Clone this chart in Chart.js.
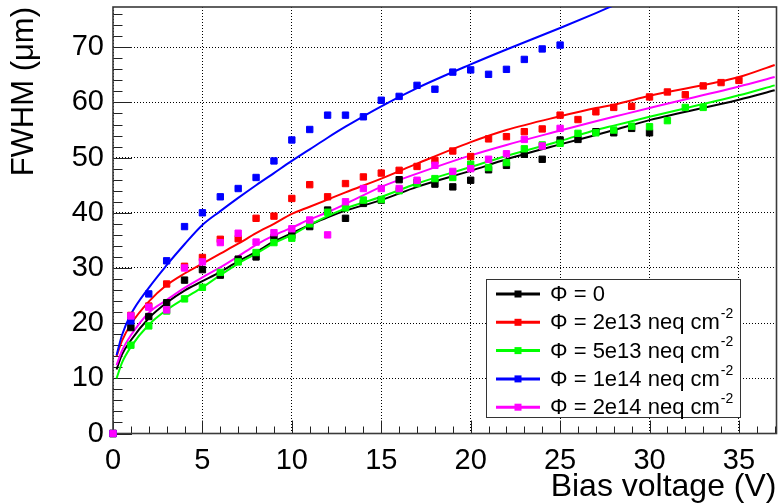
<!DOCTYPE html>
<html><head><meta charset="utf-8">
<script src="https://cdn.jsdelivr.net/npm/chart.js@4.4.1/dist/chart.umd.min.js"></script>
<style>html,body{margin:0;padding:0;background:#fff}canvas{display:block}</style>
</head><body>
<canvas id="c" width="782" height="504"></canvas>
<script>
// ---------- data ----------
const voltage = [0,1,2,3,4,5,6,7,8,9,10,11,12,13,14,15,16,17,18,19,20,21,22,23,24,25,26,27,28,29,30,31,32,33,34,35];
const seriesLabels = ['Φ = 0', 'Φ = 2e13 neq cm^{-2}', 'Φ = 5e13 neq cm^{-2}', 'Φ = 1e14 neq cm^{-2}', 'Φ = 2e14 neq cm^{-2}'];
const fwhmPhi0  = [0,19.2,21.2,23.7,27.8,29.7,28.7,31.6,32.0,35.5,35.9,37.5,40.5,39.0,41.7,42.3,46.0,45.5,45.2,44.7,45.9,47.8,48.6,50.6,49.7,53.2,53.3,54.7,54.5,55.3,54.5];
const fwhm2e13  = [0,21.4,23.1,27.1,30.3,31.9,35.2,35.3,39.0,39.4,42.6,45.1,42.9,45.3,46.5,47.2,47.7,48.4,49.5,51.2,50.2,53.4,53.8,54.7,55.2,57.7,56.9,58.3,59.1,59.3,61.0,61.9,61.4,63.0,63.6,64.0];
const fwhm5e13  = [0,16.0,19.5,22.2,24.4,26.5,29.2,31.1,32.8,34.6,35.4,38.0,40.1,40.9,42.3,42.4,44.0,45.3,46.2,46.4,48.8,48.2,49.1,51.6,52.3,52.6,54.4,54.5,55.0,55.7,55.6,56.7,59.1,59.1];
const fwhm1e14  = [0,20.4,25.3,31.3,37.5,40.0,42.9,44.4,46.4,49.4,53.2,55.1,57.7,57.7,57.4,60.4,61.1,63.1,62.4,65.5,65.9,65.1,66.0,67.8,69.7,70.4];
const fwhm2e14  = [0,21.3,22.9,22.4,30.0,31.1,34.6,36.3,34.7,36.4,37.1,38.7,36.0,42.0,44.4,44.4,44.4,45.9,48.6,47.5,48.0,49.7,50.7,53.3,52.1,55.3];

const fitVoltage = [0.2,0.5,1,2,3,4,5,6,7,8,9,10,11,12,13,15,17,20,22,25,27,28,30,35,37];
const fitPhi0 = [11.6,14.3,16.9,20.9,23.7,25.9,27.6,29.3,31.2,32.9,34.8,36.3,37.8,39.2,40.4,42.3,44.7,47.6,49.7,52.4,54.1,55.0,56.8,60.5,62.2];
const fit2e13 = [14.0,16.8,19.8,23.9,26.9,29.0,30.8,32.6,34.4,36.3,38.0,39.8,41.1,42.4,43.7,46.2,48.9,52.8,55.0,57.5,59.0,59.6,61.2,64.6,66.8];
const fit5e13 = [10.0,12.8,15.7,19.7,22.4,24.5,26.5,28.7,30.8,32.6,34.5,36.0,37.8,39.4,40.8,42.9,45.3,48.3,50.3,53.0,55.0,55.8,57.4,61.3,63.1];
const fit1e14 = [14.2,17.8,21.6,26.4,30.5,34.3,37.8,40.3,42.7,45.0,47.2,49.4,51.5,53.6,55.6,59.3,62.6,66.9,69.6,73.5,76.2,77.6];
const fit2e14 = [12.4,15.0,17.8,21.9,24.2,26.4,28.3,30.1,32.1,34.2,35.9,37.3,38.8,40.1,41.6,44.7,47.1,50.4,52.3,54.9,56.6,57.4,59.0,62.9,64.6];

const xTickValues = [0,5,10,15,20,25,30,35];
const yTickValues = [0,10,20,30,40,50,60,70];
const xRange = [0, 37.1];
const yRange = [0, 77.3];

// ---------- styles ----------
const seriesColors = ['#000000', '#ff0000', '#00ff00', '#0000ff', '#ff00ff'];
const FONT = "'Liberation Sans', Arial, Helvetica, sans-serif";

const measured = [fwhmPhi0, fwhm2e13, fwhm5e13, fwhm1e14, fwhm2e14];
const fits = [fitPhi0, fit2e13, fit5e13, fit1e14, fit2e14];

const datasets = [];
measured.forEach((arr, i) => {
  datasets.push({
    label: seriesLabels[i],
    data: arr.map((v, k) => ({x: voltage[k], y: v})),
    showLine: false,
    pointStyle: 'rect',
    pointRadius: 4.5,
    pointBorderWidth: 1,
    backgroundColor: seriesColors[i],
    borderColor: seriesColors[i],
    clip: false,
    order: 4 - i
  });
});
fits.forEach((arr, i) => {
  datasets.push({
    label: seriesLabels[i] + ' fit',
    data: arr.map((v, k) => ({x: fitVoltage[k], y: v})),
    showLine: true,
    pointRadius: 0,
    borderWidth: 2,
    borderColor: seriesColors[i],
    backgroundColor: seriesColors[i],
    cubicInterpolationMode: 'monotone',
    order: 10 - i
  });
});

const framePlugin = {
  id: 'rootFrame',
  beforeDatasetsDraw(chart) {
    const {ctx, chartArea: a, scales: {x, y}} = chart;
    ctx.save();
    ctx.strokeStyle = '#222';
    ctx.lineWidth = 1;
    ctx.beginPath();
    for (let v = 0; v <= yRange[1]; v += 2) {
      const p = Math.round(y.getPixelForValue(v)) + 0.5;
      const len = (v % 10 === 0) ? 19 : 9.5;
      ctx.moveTo(a.left, p); ctx.lineTo(a.left + len, p);
    }
    for (let v = 0; v <= xRange[1]; v += 1) {
      const p = Math.round(x.getPixelForValue(v)) + 0.5;
      const len = (v % 5 === 0) ? 13 : 7;
      ctx.moveTo(p, a.bottom); ctx.lineTo(p, a.bottom - len);
    }
    ctx.stroke();
    ctx.strokeStyle = '#3a3a3a';
    ctx.lineWidth = 1.6;
    ctx.strokeRect(a.left, a.top, a.right - a.left, a.bottom - a.top);
    ctx.restore();
  }
};

const legendPlugin = {
  id: 'rootLegend',
  afterDraw(chart) {
    const ctx = chart.ctx;
    const bx = 486, by = 279, bw = 254, bh = 138;
    ctx.save();
    ctx.fillStyle = '#fff';
    ctx.fillRect(bx, by, bw, bh);
    ctx.strokeStyle = '#333';
    ctx.lineWidth = 1;
    ctx.strokeRect(bx + 0.5, by + 0.5, bw, bh);
    const y0 = 294, dy = 28.3;
    seriesLabels.forEach((lab, i) => {
      const yy = y0 + i * dy;
      const col = seriesColors[i];
      ctx.strokeStyle = col;
      ctx.lineWidth = 3;
      ctx.beginPath(); ctx.moveTo(496, yy); ctx.lineTo(540, yy); ctx.stroke();
      ctx.fillStyle = col;
      ctx.fillRect(514.5, yy - 3.5, 7, 7);
      const m = lab.match(/^(.*)\^\{(.*)\}$/);
      const main = m ? m[1] : lab;
      const sup = m ? m[2] : '';
      ctx.fillStyle = '#000';
      ctx.textBaseline = 'middle';
      ctx.textAlign = 'left';
      ctx.font = '22px ' + FONT;
      ctx.fillText(main, 550, yy + 1);
      if (sup) {
        const w = ctx.measureText(main).width;
        ctx.font = '14px ' + FONT;
        ctx.fillText(sup, 550 + w + 1, yy - 8);
      }
    });
    ctx.restore();
  }
};

new Chart(document.getElementById('c'), {
  type: 'scatter',
  data: {datasets},
  options: {
    responsive: false,
    animation: false,
    devicePixelRatio: 1,
    layout: {padding: {top: 7, right: 0, bottom: 0, left: 0}},
    plugins: {legend: {display: false}, tooltip: {enabled: false}},
    scales: {
      x: {
        type: 'linear', min: xRange[0], max: xRange[1],
        afterBuildTicks: s => { s.ticks = xTickValues.map(v => ({value: v})); },
        afterFit: s => { s.height = 70.5; s.paddingLeft = 0; s.paddingRight = 0; },
        ticks: {color: '#000', font: {family: FONT, size: 29}, padding: 10, maxRotation: 0, autoSkip: false},
        grid: {color: '#000', lineWidth: 1, drawTicks: false},
        border: {display: false, dash: [1, 2]},
        title: {display: true, text: 'Bias voltage (V)', align: 'end', color: '#000',
                font: {family: FONT, size: 32, lineHeight: 1}, padding: {top: 0, bottom: 1}}
      },
      y: {
        type: 'linear', min: yRange[0], max: yRange[1],
        afterBuildTicks: s => { s.ticks = yTickValues.map(v => ({value: v})); },
        afterFit: s => { s.width = 113; s.paddingTop = 0; s.paddingBottom = 0; },
        ticks: {color: '#000', font: {family: FONT, size: 29}, padding: 9, autoSkip: false},
        grid: {color: '#000', lineWidth: 1, drawTicks: false},
        border: {display: false, dash: [1, 2]},
        title: {display: true, text: 'FWHM (μm)', align: 'end', color: '#000',
                font: {family: FONT, size: 31, lineHeight: 1}, padding: {top: 9, bottom: 0}}
      }
    }
  },
  plugins: [framePlugin, legendPlugin]
});
</script>
</body></html>
